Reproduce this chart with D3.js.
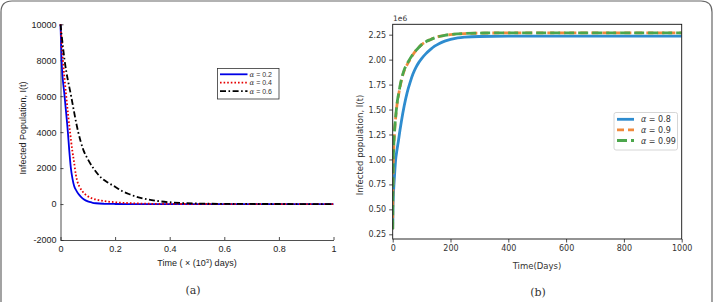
<!DOCTYPE html>
<html>
<head>
<meta charset="utf-8">
<script src="https://cdn.jsdelivr.net/npm/d3@7"></script>
<style>
  body { margin: 0; background: #fff; }
  svg { display: block; }
</style>
</head>
<body>
<svg id="fig" width="713" height="302"></svg>
<script>
// panel (a): time in 10^3 days, infected counts
var aLabels = ["\u03b1 = 0.2", "\u03b1 = 0.4", "\u03b1 = 0.6"];
var aT1 = [0, 0.004, 0.015, 0.027, 0.032, 0.038, 0.044, 0.05, 0.058, 0.066, 0.075, 0.085, 0.1, 0.115, 0.13, 0.16, 0.2, 0.25, 0.5, 1];
var aI1 = [10000, 8000, 6000, 4000, 3000, 2000, 1400, 1000, 750, 560, 400, 270, 150, 85, 45, 15, 4, 0, 0, 0];
var aT2 = [0, 0.009, 0.021, 0.035, 0.043, 0.05, 0.056, 0.062, 0.07, 0.08, 0.09, 0.1, 0.115, 0.13, 0.15, 0.17, 0.2, 0.25, 0.3, 0.35, 0.5, 1];
var aI2 = [10000, 8000, 6000, 4000, 3000, 2300, 1650, 1250, 950, 720, 550, 430, 320, 250, 190, 145, 100, 50, 25, 12, 2, 0];
var aT3 = [0, 0.015, 0.039, 0.065, 0.084, 0.1, 0.12, 0.15, 0.175, 0.2, 0.225, 0.25, 0.3, 0.35, 0.4, 0.45, 0.5, 0.6, 0.8, 1];
var aI3 = [10000, 8000, 6000, 4000, 3000, 2500, 2000, 1450, 1180, 960, 730, 560, 320, 180, 100, 55, 30, 10, 2, 0];
var aXTicks = [0, 0.2, 0.4, 0.6, 0.8, 1];
var aYTicks = [-2000, 0, 2000, 4000, 6000, 8000, 10000];

// panel (b): days, infected (x 1e6)
var bLabels = ["\u03b1 = 0.8", "\u03b1 = 0.9", "\u03b1 = 0.99"];
var bT = [0, 1, 2, 4, 7, 10, 15, 20, 25, 30, 40, 50, 60, 70, 80, 90, 100, 115, 130, 145, 160, 180, 200, 225, 250, 300, 400, 1000];
var bI1 = [0.30, 0.52, 0.62, 0.73, 0.87, 0.99, 1.10, 1.19, 1.29, 1.38, 1.54, 1.67, 1.77, 1.855, 1.92, 1.97, 2.01, 2.06, 2.10, 2.135, 2.16, 2.185, 2.202, 2.217, 2.225, 2.232, 2.235, 2.235];
var bI2 = [0.30, 0.80, 0.97, 1.14, 1.30, 1.41, 1.55, 1.64, 1.72, 1.79, 1.89, 1.95, 2.00, 2.05, 2.09, 2.122, 2.15, 2.18, 2.20, 2.218, 2.232, 2.243, 2.251, 2.257, 2.261, 2.265, 2.268, 2.268];
var bI3 = [0.30, 0.85, 1.00, 1.16, 1.31, 1.42, 1.56, 1.65, 1.73, 1.80, 1.90, 1.96, 2.01, 2.055, 2.09, 2.122, 2.15, 2.18, 2.20, 2.218, 2.232, 2.244, 2.252, 2.258, 2.262, 2.266, 2.268, 2.268];
var bXTicks = [0, 200, 400, 600, 800, 1000];
var bYTicks = [0.25, 0.50, 0.75, 1.00, 1.25, 1.50, 1.75, 2.00, 2.25];

var svg = d3.select("#fig");

// outer frame, rounded, open at the bottom
svg.append("path")
    .attr("d", "M1,310 L1,12 Q1,1 12,1 L701,1 Q712,1 712,12 L712,310")
    .attr("fill", "none")
    .attr("stroke", "#666")
    .attr("stroke-width", 1.2);

// ---------- panel (a) ----------
var fontA = "Liberation Sans, Arial, sans-serif";
var ax = d3.scaleLinear().domain([0, 1]).range([60.5, 333.5]);
var ay = d3.scaleLinear().domain([-2000, 10000]).range([240, 24.3]);
var ga = svg.append("g").attr("font-family", fontA);

var axA = ga.append("g").attr("transform", "translate(0,240)")
    .call(d3.axisBottom(ax).tickValues(aXTicks).tickSizeInner(-3).tickSizeOuter(0).tickPadding(6)
        .tickFormat(d => d === 0 || d === 1 ? String(d) : d3.format(".1f")(d)));
var ayA = ga.append("g").attr("transform", "translate(60.5,0)")
    .call(d3.axisLeft(ay).tickValues(aYTicks).tickSizeInner(-3).tickSizeOuter(0).tickPadding(4)
        .tickFormat(d => String(d)));
[axA, ayA].forEach(function(g) {
    g.attr("font-family", fontA);
    g.select(".domain").attr("stroke", "#222").attr("stroke-width", 0.8);
    g.selectAll(".tick line").attr("stroke", "#222").attr("stroke-width", 0.8);
    g.selectAll(".tick text").attr("font-size", 9).attr("fill", "#222");
});

var lineA = d3.line().x(d => ax(d[0])).y(d => ay(d[1])).curve(d3.curveMonotoneX);
var aSeries = [
    { t: aT1, v: aI1, color: "#0000e6", dash: null },
    { t: aT2, v: aI2, color: "#e60000", dash: "1.6,2" },
    { t: aT3, v: aI3, color: "#000", dash: "6,2.5,1.6,2.5" }
];
aSeries.forEach(function(s) {
    ga.append("path")
        .datum(d3.zip(s.t, s.v))
        .attr("d", lineA)
        .attr("fill", "none")
        .attr("stroke", s.color)
        .attr("stroke-width", 1.8)
        .attr("stroke-dasharray", s.dash);
});

ga.append("text")
    .attr("x", 197).attr("y", 266)
    .attr("text-anchor", "middle").attr("font-size", 9).attr("fill", "#222")
    .html("Time ( \u00d7 (10<tspan dy='-3.5' font-size='6'>3</tspan><tspan dy='3.5'>) days)</tspan>");
ga.append("text")
    .attr("transform", "translate(26,128) rotate(-90)")
    .attr("text-anchor", "middle").attr("font-size", 9).attr("fill", "#222")
    .text("Infected Population, I(t)");

// legend (a)
var lga = ga.append("g").attr("transform", "translate(217.5,68.5)");
lga.append("rect").attr("width", 61.5).attr("height", 30.5)
    .attr("fill", "#fff").attr("stroke", "#333").attr("stroke-width", 0.8);
aSeries.forEach(function(s, i) {
    var y = 5.8 + i * 8.4;
    lga.append("line").attr("x1", 2.5).attr("x2", 30).attr("y1", y).attr("y2", y)
        .attr("stroke", s.color).attr("stroke-width", 1.8).attr("stroke-dasharray", s.dash);
    lga.append("text").attr("x", 32).attr("y", y + 2.5)
        .attr("font-size", 7).attr("fill", "#333")
        .html("<tspan font-family='DejaVu Serif' font-style='italic'>\u03b1</tspan>" + aLabels[i].slice(1));
});

svg.append("text")
    .attr("x", 193).attr("y", 294)
    .attr("text-anchor", "middle")
    .attr("font-family", "DejaVu Serif, serif").attr("font-size", 11).attr("fill", "#333")
    .text("(a)");

// ---------- panel (b) ----------
var fontB = "DejaVu Sans, sans-serif";
var bx = d3.scaleLinear().domain([0, 1000]).range([392.7, 681.7]);
var by = d3.scaleLinear().domain([0.203, 2.354]).range([239, 24.3]);
var gb = svg.append("g").attr("font-family", fontB);

var axB = gb.append("g").attr("transform", "translate(0,239)")
    .call(d3.axisBottom(bx).tickValues(bXTicks).tickSizeInner(3.5).tickSizeOuter(0).tickPadding(3)
        .tickFormat(d => String(d)));
var ayB = gb.append("g").attr("transform", "translate(392.7,0)")
    .call(d3.axisLeft(by).tickValues(bYTicks).tickSizeInner(3.5).tickSizeOuter(0).tickPadding(3)
        .tickFormat(d3.format(".2f")));
[axB, ayB].forEach(function(g) {
    g.attr("font-family", fontB);
    g.select(".domain").remove();
    g.selectAll(".tick line").attr("stroke", "#222").attr("stroke-width", 0.8);
    g.selectAll(".tick text").attr("font-size", 8).attr("fill", "#333");
});

gb.append("defs").append("clipPath").attr("id", "clipb")
    .append("rect").attr("x", 392.7).attr("y", 24.3).attr("width", 289).attr("height", 214.7);

var lineB = d3.line().x(d => bx(d[0])).y(d => by(d[1])).curve(d3.curveMonotoneX);
var bSeries = [
    { v: bI1, color: "#2e8ccf", dash: null },
    { v: bI2, color: "#f08a3c", dash: "7,4" },
    { v: bI3, color: "#4ca64c", dash: "10,4" }
];
bSeries.forEach(function(s) {
    gb.append("path")
        .datum(d3.zip(bT, s.v))
        .attr("d", lineB)
        .attr("clip-path", "url(#clipb)")
        .attr("fill", "none")
        .attr("stroke", s.color)
        .attr("stroke-width", 2.8)
        .attr("stroke-dasharray", s.dash);
});

gb.append("rect")
    .attr("x", 392.7).attr("y", 24.3).attr("width", 289).attr("height", 214.7)
    .attr("fill", "none").attr("stroke", "#111").attr("stroke-width", 0.9);

gb.append("text").attr("x", 393).attr("y", 20.5)
    .attr("font-size", 7.5).attr("fill", "#333").text("1e6");
gb.append("text")
    .attr("x", 537).attr("y", 268.5)
    .attr("text-anchor", "middle").attr("font-size", 8.5).attr("fill", "#333")
    .text("Time(Days)");
gb.append("text")
    .attr("transform", "translate(363,145) rotate(-90)")
    .attr("text-anchor", "middle").attr("font-size", 8.5).attr("fill", "#333")
    .text("Infected population, I(t)");

// legend (b)
var lgb = gb.append("g").attr("transform", "translate(614,112.5)");
lgb.append("rect").attr("width", 63.5).attr("height", 37.5).attr("rx", 2)
    .attr("fill", "#fff").attr("fill-opacity", 0.8)
    .attr("stroke", "#ccc").attr("stroke-width", 0.8);
bSeries.forEach(function(s, i) {
    var y = 6.8 + i * 10.6;
    lgb.append("line").attr("x1", 3).attr("x2", 20).attr("y1", y).attr("y2", y)
        .attr("stroke", s.color).attr("stroke-width", 2.8).attr("stroke-dasharray", s.dash);
    lgb.append("text").attr("x", 27).attr("y", y + 3)
        .attr("font-size", 8).attr("fill", "#333")
        .html("<tspan font-style='italic'>\u03b1</tspan>" + bLabels[i].slice(1));
});

svg.append("text")
    .attr("x", 538).attr("y", 296)
    .attr("text-anchor", "middle")
    .attr("font-family", "DejaVu Serif, serif").attr("font-size", 11).attr("fill", "#333")
    .text("(b)");
</script>
</body>
</html>
